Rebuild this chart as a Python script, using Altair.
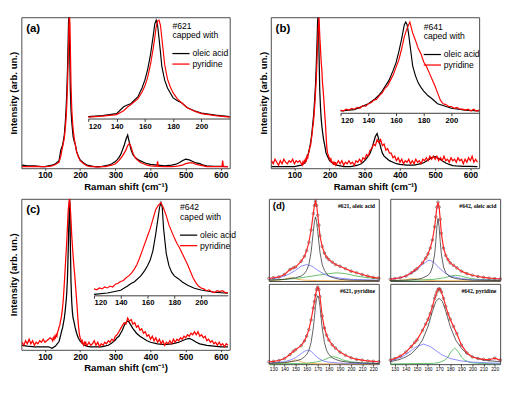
import altair as alt
import pandas as pd

# ---------------- shared x grids (Raman shift, cm-1) ----------------
X_LOW = [35, 50, 70, 90, 100, 110]
X_PEAK = [120, 130, 140, 145, 148, 150, 155, 158, 160, 162, 164, 166, 167, 168, 169,
          170, 171, 172, 174, 176, 178, 180, 183, 186, 190, 195, 200, 210, 220]
X_HIGH = [230, 240, 250, 260, 270, 280, 290, 300, 305, 310, 315, 320, 325, 330, 335,
          340, 345, 350, 355, 360, 370, 380, 390, 400, 420, 440, 460, 470, 480, 490,
          500, 510, 520, 530, 540, 550, 560, 580, 600, 620]
X_LOW_DENSE = list(range(35, 116, 5))
X_PEAK_DENSE = list(range(120, 221, 2))
X_HIGH_DENSE = list(range(225, 621, 5))

# ---------------- panel (a) #621 ----------------
A_OLEIC_LOW = [0.02, 0.015, 0.015, 0.01, 0.01, 0.015]
A_OLEIC_PEAK = [0.02, 0.03, 0.05, 0.12, 0.14, 0.15, 0.22, 0.31, 0.39, 0.50, 0.65, 0.85, 0.96, 1.0, 0.95,
                0.82, 0.68, 0.53, 0.39, 0.31, 0.26, 0.21, 0.18, 0.16, 0.11, 0.08, 0.055, 0.035, 0.02]
A_OLEIC_HIGH = [0.015, 0.01, 0.01, 0.01, 0.015, 0.02, 0.03, 0.045, 0.055, 0.07, 0.09, 0.12, 0.15, 0.19, 0.22,
                0.17, 0.12, 0.09, 0.075, 0.065, 0.05, 0.04, 0.03, 0.025, 0.02, 0.015, 0.02, 0.025, 0.035, 0.05,
                0.06, 0.055, 0.045, 0.035, 0.03, 0.02, 0.015, 0.012, 0.012, 0.01]
A_PYR_LOW = [0.01, 0.01, 0.012, 0.01, 0.01, 0.012]
A_PYR_PEAK = [0.015, 0.025, 0.04, 0.08, 0.12, 0.14, 0.2, 0.27, 0.33, 0.42, 0.55, 0.72, 0.82, 0.93, 0.99,
              1.0, 0.95, 0.82, 0.55, 0.40, 0.32, 0.26, 0.2, 0.16, 0.11, 0.075, 0.05, 0.03, 0.015]
A_PYR_HIGH_X = [230, 240, 250, 260, 270, 280, 290, 300, 305, 310, 315, 320, 325, 330, 335,
                340, 345, 350, 355, 360, 370, 380, 390, 400, 418, 420, 422, 440, 460, 470,
                480, 490, 500, 510, 520, 530, 540, 550, 560, 580, 603, 605, 607, 620]
A_PYR_HIGH = [0.01, 0.01, 0.008, 0.01, 0.01, 0.015, 0.02, 0.03, 0.04, 0.05, 0.065, 0.08, 0.1, 0.12, 0.15,
              0.165, 0.14, 0.1, 0.075, 0.06, 0.04, 0.03, 0.02, 0.015, 0.012, 0.045, 0.012, 0.01, 0.01, 0.012,
              0.015, 0.02, 0.03, 0.035, 0.035, 0.025, 0.02, 0.015, 0.01, 0.01, 0.01, 0.05, 0.01, 0.01]

# ---------------- panel (b) #641 ----------------
B_OLEIC_LOW = [0.01, 0.01, 0.01, 0.01, 0.01, 0.015]
B_OLEIC_PEAK = [0.02, 0.035, 0.1, 0.155, 0.2, 0.24, 0.36, 0.47, 0.55, 0.67, 0.81, 0.97, 1.0, 0.97, 0.88,
                0.76, 0.64, 0.52, 0.41, 0.33, 0.28, 0.24, 0.19, 0.155, 0.1, 0.075, 0.05, 0.03, 0.02]
B_OLEIC_HIGH = [0.015, 0.01, 0.01, 0.01, 0.015, 0.02, 0.03, 0.05, 0.065, 0.08, 0.1, 0.13, 0.17, 0.21, 0.23,
                0.19, 0.14, 0.1, 0.08, 0.07, 0.05, 0.04, 0.03, 0.025, 0.02, 0.02, 0.03, 0.04, 0.055, 0.07,
                0.077, 0.065, 0.05, 0.035, 0.025, 0.018, 0.015, 0.012, 0.012, 0.01]
B_PYR_LOW = [0.05, 0.03, 0.06, 0.04, 0.02, 0.05, 0.03, 0.06, 0.04, 0.03, 0.05, 0.04, 0.06, 0.03, 0.05, 0.04, 0.05]
B_PYR_PEAK = [0.03, 0.02, 0.04, 0.03, 0.05, 0.04, 0.06, 0.05, 0.08, 0.07,
              0.10, 0.11, 0.14, 0.15, 0.19, 0.22, 0.27, 0.30, 0.36, 0.42,
              0.50, 0.58, 0.70, 0.84, 0.93, 1.00, 0.88, 0.80, 0.71, 0.65,
              0.56, 0.51, 0.44, 0.37, 0.30, 0.22, 0.14, 0.10, 0.09, 0.07,
              0.07, 0.05, 0.06, 0.04, 0.04, 0.03, 0.04, 0.02, 0.04, 0.02, 0.03]
B_PYR_HIGH = [0.05, 0.03, 0.05, 0.02, 0.04, 0.03, 0.05, 0.03, 0.04, 0.02,
              0.05, 0.04, 0.06, 0.04, 0.07, 0.06, 0.09, 0.08, 0.12, 0.13,
              0.16, 0.15, 0.19, 0.17, 0.19, 0.15, 0.16, 0.12, 0.13, 0.10,
              0.10, 0.07, 0.08, 0.05, 0.07, 0.04, 0.06, 0.03, 0.05, 0.04,
              0.06, 0.03, 0.05, 0.03, 0.06, 0.04, 0.05, 0.03, 0.06, 0.05,
              0.07, 0.05, 0.08, 0.06, 0.08, 0.06, 0.08, 0.05, 0.07, 0.05,
              0.08, 0.05, 0.06, 0.04, 0.07, 0.05, 0.06, 0.04, 0.07, 0.05,
              0.06, 0.03, 0.06, 0.04, 0.07, 0.05, 0.08, 0.04, 0.06, 0.04]

# ---------------- panel (c) #642 ----------------
C_OLEIC_LOW = [0.03, 0.025, 0.02, 0.02, 0.02, 0.02]
C_OLEIC_PEAK = [0.01, 0.025, 0.055, 0.1, 0.13, 0.145, 0.21, 0.27, 0.32, 0.38, 0.48, 0.65, 0.75, 0.85, 0.95,
                1.0, 0.95, 0.72, 0.45, 0.32, 0.25, 0.21, 0.18, 0.145, 0.11, 0.077, 0.057, 0.033, 0.023]
C_OLEIC_HIGH = [0.02, 0.02, 0.02, 0.02, 0.025, 0.03, 0.045, 0.065, 0.08, 0.09, 0.11, 0.13, 0.16, 0.18, 0.19,
                0.18, 0.16, 0.14, 0.125, 0.11, 0.09, 0.075, 0.06, 0.05, 0.04, 0.035, 0.04, 0.045, 0.05, 0.06,
                0.07, 0.075, 0.065, 0.05, 0.04, 0.035, 0.03, 0.025, 0.02, 0.02]
C_PYR_LOW = [0.05, 0.03, 0.06, 0.04, 0.07, 0.04, 0.06, 0.03, 0.05, 0.04, 0.06, 0.05, 0.07, 0.05, 0.06, 0.07, 0.08]
C_PYR_PEAK = [0.07, 0.06, 0.08, 0.07, 0.09, 0.08, 0.10, 0.09, 0.12, 0.13,
              0.15, 0.16, 0.19, 0.21, 0.24, 0.28, 0.33, 0.40, 0.48, 0.56,
              0.64, 0.72, 0.82, 0.92, 0.97, 1.00, 0.94, 0.86, 0.76, 0.69,
              0.62, 0.56, 0.51, 0.45, 0.39, 0.33, 0.26, 0.19, 0.14, 0.10,
              0.08, 0.07, 0.05, 0.06, 0.04, 0.03, 0.05, 0.04, 0.05, 0.03, 0.03]
C_PYR_HIGH = [0.05, 0.03, 0.04, 0.06, 0.03, 0.05, 0.02, 0.04, 0.03, 0.05,
              0.04, 0.06, 0.05, 0.07, 0.06, 0.09, 0.10, 0.12, 0.14, 0.16,
              0.18, 0.17, 0.21, 0.19, 0.20, 0.17, 0.18, 0.15, 0.16, 0.13,
              0.14, 0.11, 0.12, 0.09, 0.10, 0.07, 0.09, 0.06, 0.08, 0.05,
              0.07, 0.04, 0.06, 0.03, 0.05, 0.04, 0.06, 0.04, 0.07, 0.05,
              0.07, 0.06, 0.08, 0.07, 0.09, 0.08, 0.10, 0.09, 0.11, 0.10,
              0.12, 0.10, 0.12, 0.09, 0.10, 0.08, 0.09, 0.06, 0.07, 0.05,
              0.06, 0.04, 0.05, 0.03, 0.05, 0.03, 0.04, 0.02, 0.04, 0.03]

# ---------------- panel (d) fits ----------------
D_X = [126, 130, 135, 140, 145, 148, 150, 155, 158, 160, 162, 164, 166, 167, 168, 169, 170,
       171, 172, 174, 176, 178, 180, 183, 186, 190, 195, 200, 205, 210, 215, 220, 225]
D1_TOTAL = [0.03, 0.04, 0.05, 0.08, 0.14, 0.16, 0.17, 0.24, 0.30, 0.37, 0.47, 0.62, 0.82, 0.92, 0.97, 0.92, 0.80,
            0.68, 0.55, 0.42, 0.34, 0.29, 0.26, 0.23, 0.20, 0.18, 0.15, 0.12, 0.10, 0.08, 0.06, 0.045, 0.035]
D2_TOTAL = [0.02, 0.03, 0.04, 0.06, 0.10, 0.13, 0.15, 0.22, 0.28, 0.33, 0.40, 0.50, 0.66, 0.78, 0.90, 0.96, 0.90,
            0.75, 0.58, 0.40, 0.31, 0.26, 0.22, 0.19, 0.16, 0.12, 0.09, 0.07, 0.055, 0.045, 0.035, 0.03, 0.025]
D3_TOTAL = [0.03, 0.035, 0.045, 0.07, 0.12, 0.16, 0.18, 0.23, 0.29, 0.35, 0.43, 0.55, 0.70, 0.78, 0.86, 0.93, 0.96,
            0.93, 0.84, 0.60, 0.45, 0.36, 0.30, 0.24, 0.20, 0.15, 0.11, 0.08, 0.06, 0.05, 0.04, 0.035, 0.03]
D4_TOTAL = [0.05, 0.07, 0.10, 0.15, 0.22, 0.27, 0.30, 0.42, 0.50, 0.56, 0.63, 0.72, 0.82, 0.86, 0.90, 0.93, 0.94,
            0.93, 0.90, 0.82, 0.72, 0.63, 0.56, 0.47, 0.38, 0.24, 0.14, 0.09, 0.07, 0.06, 0.055, 0.075, 0.05]

D1_MAIN_X = [126, 140, 150, 155, 158, 160, 162, 164, 166, 167, 168, 169, 170, 172, 174, 176, 178, 180, 185, 190, 200, 225]
D1_MAIN = [0.01, 0.02, 0.04, 0.06, 0.09, 0.13, 0.2, 0.35, 0.6, 0.72, 0.78, 0.72, 0.6, 0.35, 0.2, 0.13, 0.09, 0.06, 0.035, 0.02, 0.01, 0.005]
D1_BLUE_X = [126, 135, 140, 145, 150, 155, 160, 165, 170, 175, 180, 190, 200, 225]
D1_BLUE = [0.02, 0.04, 0.06, 0.09, 0.13, 0.18, 0.2, 0.18, 0.13, 0.09, 0.06, 0.035, 0.02, 0.01]
D1_GREEN_X = [126, 140, 150, 160, 170, 180, 187, 195, 205, 215, 225]
D1_GREEN = [0.01, 0.02, 0.03, 0.05, 0.07, 0.09, 0.1, 0.09, 0.06, 0.04, 0.025]
D1_ORANGE_X = [126, 135, 140, 144, 146, 148, 152, 158, 170, 225]
D1_ORANGE = [0.005, 0.01, 0.02, 0.035, 0.04, 0.035, 0.02, 0.01, 0.005, 0.002]

D2_MAIN_X = [126, 140, 150, 155, 160, 162, 164, 166, 167, 168, 169, 170, 171, 172, 174, 176, 178, 180, 185, 190, 200, 225]
D2_MAIN = [0.005, 0.01, 0.02, 0.035, 0.07, 0.1, 0.17, 0.33, 0.48, 0.66, 0.76, 0.66, 0.48, 0.33, 0.17, 0.1, 0.07, 0.05, 0.03, 0.02, 0.01, 0.005]
D2_BLUE_X = [126, 135, 140, 145, 150, 155, 160, 162, 165, 170, 175, 180, 190, 200, 225]
D2_BLUE = [0.02, 0.04, 0.06, 0.09, 0.14, 0.2, 0.25, 0.25, 0.23, 0.16, 0.1, 0.06, 0.03, 0.015, 0.01]
D2_GREEN_X = [126, 150, 165, 175, 180, 185, 190, 195, 205, 225]
D2_GREEN = [0.005, 0.01, 0.02, 0.04, 0.06, 0.07, 0.06, 0.04, 0.02, 0.01]
D2_ORANGE_X = [126, 135, 140, 144, 146, 148, 152, 158, 170, 225]
D2_ORANGE = [0.004, 0.008, 0.015, 0.027, 0.03, 0.027, 0.015, 0.008, 0.004, 0.002]

D3_MAIN_X = [126, 140, 150, 155, 158, 160, 162, 164, 166, 168, 169, 170, 171, 172, 174, 176, 178, 180, 183, 186, 190, 200, 225]
D3_MAIN = [0.01, 0.02, 0.04, 0.06, 0.09, 0.12, 0.17, 0.27, 0.45, 0.72, 0.82, 0.85, 0.82, 0.72, 0.45, 0.27, 0.17, 0.12, 0.08, 0.06, 0.04, 0.02, 0.008]
D3_BLUE_X = [126, 140, 145, 150, 155, 158, 161, 164, 167, 170, 175, 180, 190, 225]
D3_BLUE = [0.01, 0.03, 0.05, 0.08, 0.13, 0.16, 0.175, 0.16, 0.12, 0.08, 0.04, 0.025, 0.012, 0.005]
D3_GREEN_X = [126, 160, 170, 175, 180, 184, 188, 193, 200, 210, 225]
D3_GREEN = [0.003, 0.01, 0.03, 0.05, 0.08, 0.095, 0.08, 0.05, 0.03, 0.015, 0.008]
D3_ORANGE_X = [126, 140, 145, 150, 155, 160, 170, 225]
D3_ORANGE = [0.003, 0.015, 0.03, 0.055, 0.03, 0.012, 0.005, 0.002]

D4_MAIN_X = [126, 135, 140, 145, 150, 155, 160, 164, 167, 170, 173, 176, 180, 185, 190, 195, 200, 210, 225]
D4_MAIN = [0.03, 0.06, 0.09, 0.13, 0.2, 0.3, 0.47, 0.66, 0.78, 0.82, 0.78, 0.66, 0.47, 0.3, 0.2, 0.13, 0.09, 0.05, 0.03]
D4_BLUE_X = [126, 135, 140, 145, 150, 156, 162, 167, 172, 180, 190, 200, 225]
D4_BLUE = [0.04, 0.08, 0.12, 0.17, 0.22, 0.25, 0.22, 0.17, 0.12, 0.07, 0.04, 0.025, 0.01]
D4_GREEN_X = [126, 165, 170, 175, 178, 181, 184, 187, 190, 193, 198, 205, 225]
D4_GREEN = [0.003, 0.01, 0.02, 0.05, 0.09, 0.16, 0.2, 0.16, 0.09, 0.05, 0.02, 0.01, 0.003]

SERIES = ["oleic acid", "pyridine"]
COLORS = ["#000000", "#ff0000"]

FONT = "Liberation Sans"
W, H = 218, 158


def frame(xs, ys, name):
    assert len(xs) == len(ys), (name, len(xs), len(ys))
    return pd.DataFrame({"x": xs, "y": ys, "s": name})


def spectra(oleic_x, oleic_y, pyr_x, pyr_y):
    return pd.concat([frame(oleic_x, oleic_y, SERIES[0]), frame(pyr_x, pyr_y, SERIES[1])],
                     ignore_index=True)


ONE = pd.DataFrame({"k": [0]})


def note(text, x, y, size=9, weight="normal", font=FONT, align="left"):
    return alt.Chart(ONE).mark_text(text=text, fontSize=size, fontWeight=weight, font=font,
                                    align=align, baseline="middle", color="black").encode(
        x=alt.value(x), y=alt.value(y))


def key_line(x0, x1, y, color):
    return alt.Chart(ONE).mark_rule(color=color, strokeWidth=1.3).encode(
        x=alt.value(x0), x2=alt.value(x1), y=alt.value(y))


def main_panel(df, letter, sample, verb, ixr, iyr, lx, ly):
    color = alt.Color("s:N", scale=alt.Scale(domain=SERIES, range=COLORS), legend=None)
    main = alt.Chart(df).mark_line(strokeWidth=1.3, clip=True).encode(
        x=alt.X("x:Q", scale=alt.Scale(domain=[33, 625], nice=False, zero=False),
                axis=alt.Axis(values=[100, 200, 300, 400, 500, 600], title="Raman shift (cm⁻¹)",
                              grid=False, domain=False, tickSize=2, labelFontSize=9,
                              labelFontWeight="bold", titleFontSize=10, titleFontWeight="bold",
                              labelPadding=1, titlePadding=2)),
        y=alt.Y("y:Q", scale=alt.Scale(domain=[0, 1.0], nice=False, zero=False),
                axis=alt.Axis(title="Intensity (arb. un.)", labels=False, ticks=False, domain=False,
                              grid=False, titleFontSize=10, titleFontWeight="bold", titlePadding=3)),
        color=color)
    inset = alt.Chart(df).transform_filter("datum.x >= 120 && datum.x <= 220").mark_line(
        strokeWidth=1.2).encode(
        x=alt.X("x:Q", scale=alt.Scale(domain=[120, 220], range=ixr, nice=False, zero=False),
                axis=alt.Axis(orient="bottom", offset=-(H - iyr[0]), values=[120, 140, 160, 180, 200],
                              title=None, grid=False, tickSize=3, labelFontSize=8,
                              labelFontWeight="bold", domainColor="#333", labelPadding=1)),
        y=alt.Y("y:Q", scale=alt.Scale(domain=[0, 1.0], range=iyr, nice=False, zero=False), axis=None),
        color=color)
    layers = [main, inset,
              note(letter, 5, 11, size=12, weight="bold"),
              note(sample, lx, ly), note(verb, lx, ly + 10),
              key_line(lx, lx + 18, ly + 29, COLORS[0]), key_line(lx, lx + 18, ly + 40, COLORS[1]),
              note(SERIES[0], lx + 21, ly + 29), note(SERIES[1], lx + 21, ly + 40)]
    return alt.layer(*layers).resolve_scale(x="independent", y="independent").resolve_axis(
        x="independent", y="independent").properties(width=W, height=H)


def d_panel(total, comps, label, bottom, w, h, letter=None):
    xs = alt.Scale(domain=[126, 225], nice=False, zero=False)
    ys = alt.Scale(domain=[0, 1.0], nice=False, zero=False)
    if bottom:
        xaxis = alt.Axis(values=[130, 140, 150, 160, 170, 180, 190, 200, 210, 220], title=None, grid=False,
                         domain=False, tickSize=2, labelFontSize=5, labelPadding=1)
    else:
        xaxis = None
    layers = []
    for xs_, ys_, col in comps:
        layers.append(alt.Chart(frame(xs_, ys_, "c")).mark_line(color=col, strokeWidth=0.8).encode(
            x=alt.X("x:Q", scale=xs, axis=xaxis), y=alt.Y("y:Q", scale=ys, axis=None)))
    tdf = frame(D_X, total, "t")
    layers.append(alt.Chart(tdf).mark_point(size=7, color="#4a1a1a", strokeWidth=0.8).encode(
        x=alt.X("x:Q", scale=xs, axis=xaxis), y=alt.Y("y:Q", scale=ys, axis=None)))
    layers.append(alt.Chart(tdf).mark_line(color="#ff2020", strokeWidth=1.2).encode(
        x=alt.X("x:Q", scale=xs, axis=xaxis), y=alt.Y("y:Q", scale=ys, axis=None)))
    layers.append(note(label, w - 4, 8, size=6, weight="bold", font="Liberation Serif", align="right"))
    if letter:
        layers.append(note(letter, 4, 8, size=10, weight="bold"))
    return alt.layer(*layers).properties(width=w, height=h)


df_a = spectra(X_LOW + X_PEAK + X_HIGH, A_OLEIC_LOW + A_OLEIC_PEAK + A_OLEIC_HIGH,
               X_LOW + X_PEAK + A_PYR_HIGH_X, A_PYR_LOW + A_PYR_PEAK + A_PYR_HIGH)
df_b = spectra(X_LOW + X_PEAK + X_HIGH, B_OLEIC_LOW + B_OLEIC_PEAK + B_OLEIC_HIGH,
               X_LOW_DENSE + X_PEAK_DENSE + X_HIGH_DENSE, B_PYR_LOW + B_PYR_PEAK + B_PYR_HIGH)
df_c = spectra(X_LOW + X_PEAK + X_HIGH, C_OLEIC_LOW + C_OLEIC_PEAK + C_OLEIC_HIGH,
               X_LOW_DENSE + X_PEAK_DENSE + X_HIGH_DENSE, C_PYR_LOW + C_PYR_PEAK + C_PYR_HIGH)

pa = main_panel(df_a, "(a)", "#621", "capped with", [70, 218], [106, 3], 158, 9)
pb = main_panel(df_b, "(b)", "#641", "caped with", [73, 218], [100, 5], 160, 10)
pc = main_panel(df_c, "(c)", "#642", "caped with", [76, 216], [101, 4], 166, 9)

BLK, BLU, GRN, ORG = "#333333", "#6a6aff", "#3cb043", "#f0a030"
DW = 115
d1 = d_panel(D1_TOTAL, [(D1_ORANGE_X, D1_ORANGE, ORG), (D1_GREEN_X, D1_GREEN, GRN),
                        (D1_BLUE_X, D1_BLUE, BLU), (D1_MAIN_X, D1_MAIN, BLK)],
             "#621, oleic acid", False, DW, 86, letter="(d)")
d2 = d_panel(D2_TOTAL, [(D2_ORANGE_X, D2_ORANGE, ORG), (D2_GREEN_X, D2_GREEN, GRN),
                        (D2_BLUE_X, D2_BLUE, BLU), (D2_MAIN_X, D2_MAIN, BLK)],
             "#642, oleic acid", False, DW, 86)
d3 = d_panel(D3_TOTAL, [(D3_ORANGE_X, D3_ORANGE, ORG), (D3_GREEN_X, D3_GREEN, GRN),
                        (D3_BLUE_X, D3_BLUE, BLU), (D3_MAIN_X, D3_MAIN, BLK)],
             "#621, pyridine", True, DW, 84)
d4 = d_panel(D4_TOTAL, [(D4_GREEN_X, D4_GREEN, GRN), (D4_BLUE_X, D4_BLUE, BLU),
                        (D4_MAIN_X, D4_MAIN, BLK)],
             "#642, pyridine", True, DW, 84)

pd_grid = alt.vconcat(alt.hconcat(d1, d2, spacing=4), alt.hconcat(d3, d4, spacing=4), spacing=0)

chart = alt.vconcat(
    alt.hconcat(pa, pb, spacing=26),
    alt.hconcat(pc, pd_grid, spacing=29),
    spacing=6,
).properties(padding=0).configure_view(stroke="#444444", strokeWidth=1).configure_axis(
    labelFont=FONT, titleFont=FONT, labelColor="black", titleColor="black", tickColor="#333"
)

chart.save("out.html", embed_options={"renderer": "svg", "actions": False})
